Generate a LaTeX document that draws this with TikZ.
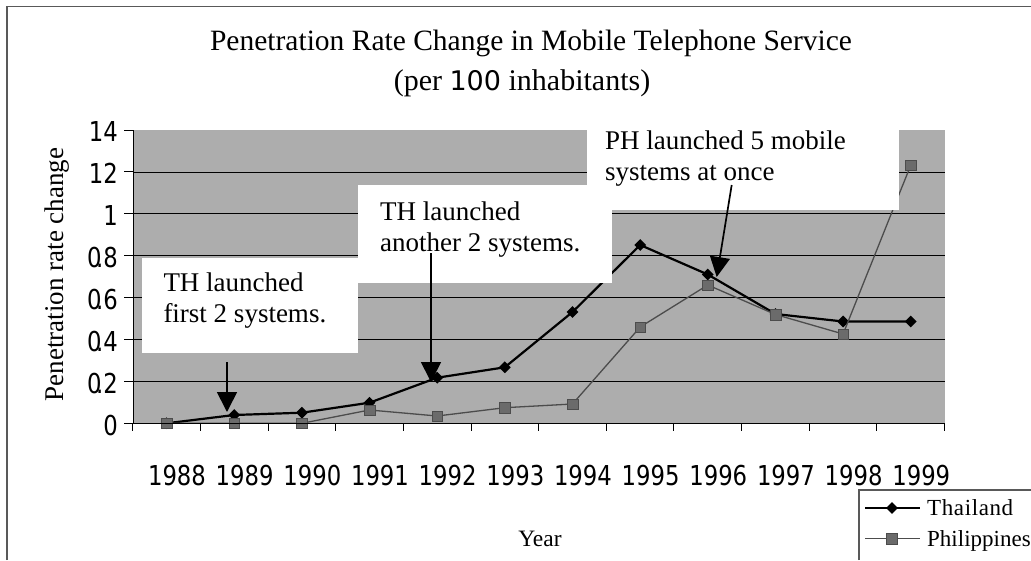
\documentclass[tikz,border=0pt]{standalone}
\usepackage{fontspec}
\setmainfont{Liberation Serif}
\newfontfamily\tah[FakeStretch=0.83]{DejaVu Sans}
\newfontfamily\tahw{DejaVu Sans}
\usetikzlibrary{shapes.geometric,arrows.meta}
\definecolor{plotgray}{gray}{0.68}
\definecolor{framec}{gray}{0.35}
\definecolor{phlinec}{gray}{0.30}
\definecolor{phfill}{gray}{0.42}
\begin{document}
\begin{tikzpicture}[x=1pt,y=-1pt,
  gridline/.style={black,line width=0.7pt},
  thline/.style={black,line width=2.2pt,line join=round},
  phline/.style={draw=phlinec,line width=1.3pt,line join=round},
  thmark/.style={diamond,fill=black,inner sep=0pt,minimum width=12pt,minimum height=12pt},
  phmark/.style={rectangle,fill=phfill,draw=phlinec,line width=0.5pt,inner sep=0pt,minimum size=10.5pt},
  callout/.style={fill=white,draw=none,inner sep=0pt,anchor=north west},
  ctext/.style={font=\fontsize{27}{31.7}\selectfont,anchor=base west,inner sep=0pt},
  xlab/.style={font=\tah\fontsize{27.4}{30}\selectfont,anchor=base,inner sep=0pt},
  ylab/.style={font=\tah\fontsize{27.4}{30}\selectfont,anchor=base east,inner sep=0pt},
  pointer/.style={line width=1.7pt,-{Triangle[length=20pt,width=20pt]}},
  legtext/.style={font=\fontsize{23}{27}\selectfont,anchor=base west,inner sep=0pt},
]
\useasboundingbox (0,0) rectangle (1031,560);
\fill[white] (0,0) rectangle (1031,560);
\draw[framec,line width=1.5pt] (7,560) -- (7,6.7) -- (1031,6.7);

% plot area
\fill[plotgray] (133,130) rectangle (944.6,423.3);
\foreach \y in {171.9,213.8,255.7,297.6,339.5,381.4}
  \draw[gridline] (133,\y) -- (944.6,\y);

% data coordinates
\coordinate (th0) at (166.5,423.3);
\coordinate (th1) at (234.2,415);
\coordinate (th2) at (301.9,412.7);
\coordinate (th3) at (369.5,402.7);
\coordinate (th4) at (437.2,377.7);
\coordinate (th5) at (504.8,367.3);
\coordinate (th6) at (572.5,312);
\coordinate (th7) at (640.2,245);
\coordinate (th8) at (707.8,274.5);
\coordinate (th9) at (775.5,314);
\coordinate (th10) at (843.1,321.5);
\coordinate (th11) at (910.8,321.5);

\coordinate (ph0) at (166.5,423.3);
\coordinate (ph1) at (234.2,423.3);
\coordinate (ph2) at (301.9,423.3);
\coordinate (ph3) at (369.5,410);
\coordinate (ph4) at (437.2,416);
\coordinate (ph5) at (504.8,407.7);
\coordinate (ph6) at (572.5,404);
\coordinate (ph7) at (640.2,327);
\coordinate (ph8) at (707.8,285);
\coordinate (ph9) at (775.5,314.5);
\coordinate (ph10) at (843.1,334);
\coordinate (ph11) at (910.8,165);

\draw[thline] (th0) -- (th1) -- (th2) -- (th3) -- (th4) -- (th5) -- (th6) -- (th7) -- (th8) -- (th9) -- (th10) -- (th11);
\foreach \i in {0,...,11} \node[thmark] (thm\i) at (th\i) {};
\draw[phline] (ph0) -- (ph1) -- (ph2) -- (ph3) -- (ph4) -- (ph5) -- (ph6) -- (ph7) -- (ph8) -- (ph9) -- (ph10) -- (ph11);
\foreach \i in {0,...,11} \node[phmark] (phm\i) at (ph\i) {};

% white callout boxes (over the plot)
\node[callout,minimum width=216pt,minimum height=95.5pt] (box1) at (142,257.5) {};
\node[callout,minimum width=254pt,minimum height=98pt] (box2) at (358,185) {};
\node[callout,minimum width=312.3pt,minimum height=90pt] (box3) at (586.7,120) {};

% axes
\draw[black,line width=1pt] (133,130) -- (133,423.3) -- (944.6,423.3);
\foreach \y in {130,171.9,213.8,255.7,297.6,339.5,381.4,423.3}
  \draw[black,line width=1pt] (124,\y) -- (133,\y);
\foreach \i in {0,...,12}
  \draw[black,line width=1pt] ({132.7+\i*67.66},423.3) -- ++(0,8);

% y tick labels
\node[ylab] (y14) at (118,141.7) {14};
\node[ylab] (y12) at (118,183.6) {12};
\node[ylab] (y10) at (118,225.5) {1};
\node[ylab] (y08) at (118,267.4) {0\kern-.2em.8};
\node[ylab] (y06) at (118,309.3) {0\kern-.2em.6};
\node[ylab] (y04) at (118,351.2) {0\kern-.2em.4};
\node[ylab] (y02) at (118,393.1) {0\kern-.2em.2};
\node[ylab] (y00) at (118,435) {0};

% x tick labels
\foreach \i in {0,...,11}{
  \pgfmathtruncatemacro{\yr}{1988+\i}
  \node[xlab] (xl\i) at ({177+\i*67.66},485) {\yr};
}

% axis titles
\node[rotate=90,font=\fontsize{27}{30}\selectfont,inner sep=0pt] (ytitle) at (57,274.5) {Penetration rate change};
\node[font=\fontsize{23.5}{28}\selectfont,inner sep=0pt] (xtitle) at (540,539) {Year};

% chart title
\node[font=\fontsize{29.5}{34}\selectfont,anchor=base,inner sep=0pt] (title1) at (531,50.7) {Penetration Rate Change in Mobile Telephone Service};
\node[font=\fontsize{30}{34}\selectfont,anchor=base,inner sep=0pt] (title2) at (522,90) {(per {\tahw\fontsize{27}{30}\selectfont 100} inhabitants)};

% callout texts
\node[ctext] (t1a) at (163.3,291) {TH launched};
\node[ctext] (t1b) at (163.3,322.7) {first 2 systems.};
\node[ctext] (t2a) at (380,220) {TH launched};
\node[ctext] (t2b) at (380,251.7) {another 2 systems.};
\node[ctext] (t3a) at (605,149) {PH launched 5 mobile};
\node[ctext] (t3b) at (605,180) {systems at once};

% arrows
\coordinate (a1s) at (227,362);
\coordinate (a1e) at (227,412);
\coordinate (a2s) at (431,253);
\coordinate (a2e) at (431,382);
\coordinate (a3s) at (731.7,185);
\coordinate (a3e) at (716.7,277);
\draw[pointer] (a1s) -- (a1e);
\draw[pointer] (a2s) -- (a2e);
\draw[pointer] (a3s) -- (a3e);

% legend
\draw[framec,line width=1.2pt] (859,560) -- (859,490) -- (1031,490);
\coordinate (lg1a) at (865,508);
\coordinate (lg1b) at (920,508);
\coordinate (lg2a) at (865,538.3);
\coordinate (lg2b) at (920,538.3);
\draw[thline,line width=2pt] (lg1a) -- (lg1b);
\node[thmark] (lgm1) at (892,508) {};
\draw[phline] (lg2a) -- (lg2b);
\node[phmark,minimum size=11pt] (lgm2) at (892,538.3) {};
\node[legtext] (lt1) at (927,515.5) {T\kern.6pt h\kern.6pt a\kern.6pt i\kern.6pt l\kern.6pt a\kern.6pt n\kern.6pt d};
\node[legtext] (lt2) at (927,546) {Philippines};
\end{tikzpicture}
\end{document}
